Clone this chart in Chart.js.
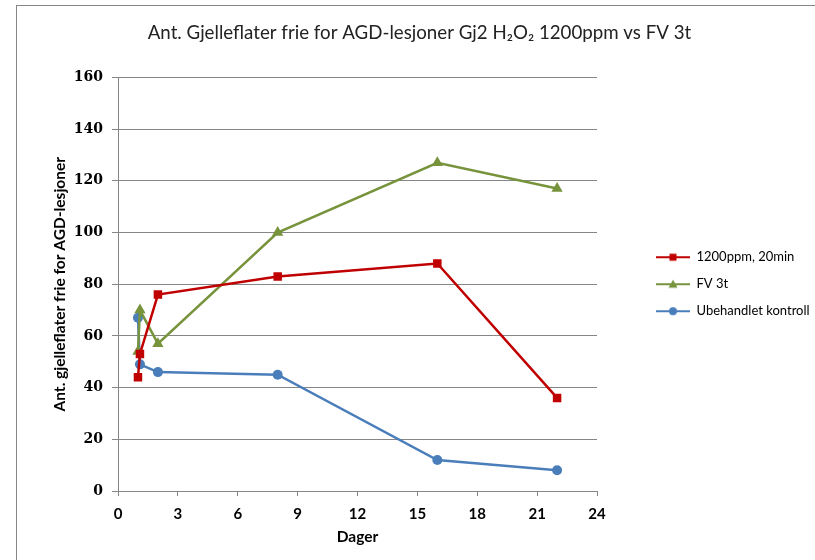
<!DOCTYPE html>
<html>
<head>
<meta charset="utf-8">
<script src="https://cdn.jsdelivr.net/npm/chart.js@4.4.1/dist/chart.umd.min.js"></script>
<style>
  html, body { margin: 0; padding: 0; background: #fff; overflow: hidden; }
  #frame { position: absolute; left: 16px; top: 5px; width: 900px; height: 700px; border: 1px solid #868686; }
  #wrap { position: absolute; left: 0; top: 0; width: 815px; height: 560px; }
</style>
</head>
<body>
<div id="frame"></div>
<div id="wrap"><canvas id="chart" width="815" height="560"></canvas></div>
<script>
// dager etter behandling
const days = [1, 1.1, 2, 8, 16, 22];
const seriesNames = ['1200ppm, 20min', 'FV 3t', 'Ubehandlet kontroll'];
const h2o2Values = [44, 53, 76, 83, 88, 36];
const fvValues = [54, 70, 57, 100, 127, 117];
const controlValues = [67, 49, 46, 45, 12, 8];
const xTicks = [0, 3, 6, 9, 12, 15, 18, 21, 24];
const yTicks = [0, 20, 40, 60, 80, 100, 120, 140, 160];

const colors = ['#C00000', '#77933C', '#4A7EBB'];
const markers = ['rect', 'triangle', 'circle'];
const radii = [6, 6.5, 5];

function toPoints(vals) {
    return vals.map((v, i) => ({ x: days[i], y: v }));
}

// line + marker pictures for the legend, with empty room on the left
const iconGap = 45;
function legendIcon(color, style) {
    const c = document.createElement('canvas');
    c.width = iconGap + 34; c.height = 12;
    const g = c.getContext('2d');
    const cx = iconGap + 17;
    g.strokeStyle = color; g.lineWidth = 2;
    g.beginPath(); g.moveTo(iconGap, 6); g.lineTo(iconGap + 34, 6); g.stroke();
    g.fillStyle = color;
    g.beginPath();
    if (style === 'rect') g.rect(cx - 3.5, 2.5, 7, 7);
    else if (style === 'triangle') { g.moveTo(cx, 1.5); g.lineTo(cx + 4.5, 9.5); g.lineTo(cx - 4.5, 9.5); g.closePath(); }
    else g.arc(cx, 6, 4, 0, Math.PI * 2);
    g.fill();
    return c;
}
const icons = colors.map((c, i) => legendIcon(c, markers[i]));

const datasets = [h2o2Values, fvValues, controlValues].map((vals, i) => ({
    label: seriesNames[i],
    data: toPoints(vals),
    borderColor: colors[i],
    backgroundColor: colors[i],
    borderWidth: 2.5,
    pointStyle: markers[i],
    pointRadius: radii[i],
    pointBorderWidth: 0,
    pointBackgroundColor: colors[i],
    tension: 0,
    fill: false
}));

const gridColor = '#868686';

// keep the legend column as wide as in the original
const legendWidth = {
    id: 'legendWidth',
    beforeLayout(chart) {
        const lg = chart.legend;
        if (lg && !lg._wide) {
            const fit = lg.fit;
            lg.fit = function () { fit.call(this); this.width = 218; };
            lg._wide = true;
        }
    }
};

new Chart(document.getElementById('chart').getContext('2d'), {
    type: 'line',
    data: { datasets: datasets },
    plugins: [legendWidth],
    options: {
        responsive: false,
        animation: false,
        layout: { padding: { left: 24, right: 0, top: 0, bottom: 14 } },
        plugins: {
            title: {
                display: true,
                text: 'Ant. Gjelleflater frie for AGD-lesjoner Gj2 H\u2082O\u2082 1200ppm vs FV 3t',
                color: '#222',
                font: { family: 'Lato', size: 18.7, weight: 'normal' },
                padding: { top: 22, bottom: 33 }
            },
            legend: {
                position: 'right',
                align: 'center',
                fullSize: false,
                labels: {
                    usePointStyle: true,
                    pointStyleWidth: iconGap + 34,
                    padding: 14,
                    color: '#000',
                    font: { family: 'Lato', size: 13 },
                    generateLabels(chart) {
                        const items = Chart.defaults.plugins.legend.labels.generateLabels(chart);
                        items.forEach((it, i) => { it.pointStyle = icons[i]; });
                        return items;
                    }
                }
            },
            tooltip: { enabled: false }
        },
        scales: {
            x: {
                type: 'linear',
                position: 'bottom',
                min: 0,
                max: 24,
                afterBuildTicks(scale) { scale.ticks = xTicks.map(v => ({ value: v })); },
                afterFit(scale) { scale.height = 55; },
                grid: { drawOnChartArea: false, drawTicks: true, tickLength: 5, color: gridColor },
                border: { display: true, color: gridColor, width: 1 },
                ticks: { color: '#000', padding: 9, font: { family: 'Lato', size: 15, weight: 'bold' } },
                title: {
                    display: true,
                    text: 'Dager',
                    color: '#000',
                    font: { family: 'Lato', size: 15.5, weight: 'bold' },
                    padding: { top: 0, bottom: 0 }
                }
            },
            y: {
                type: 'linear',
                position: 'left',
                min: 0,
                max: 160,
                afterBuildTicks(scale) { scale.ticks = yTicks.map(v => ({ value: v })); },
                afterFit(scale) { scale.width = 94; },
                grid: { drawTicks: true, tickLength: 6, color: gridColor },
                border: { display: true, color: gridColor, width: 1 },
                ticks: { color: '#000', padding: 9, font: { family: 'DejaVu Serif', size: 14, weight: 'bold' } },
                title: {
                    display: true,
                    text: 'Ant. gjelleflater frie for AGD-lesjoner',
                    color: '#000',
                    font: { family: 'Lato', size: 15.5, weight: 'bold' },
                    padding: { top: 27, bottom: 0 }
                }
            }
        }
    }
});
</script>
</body>
</html>
